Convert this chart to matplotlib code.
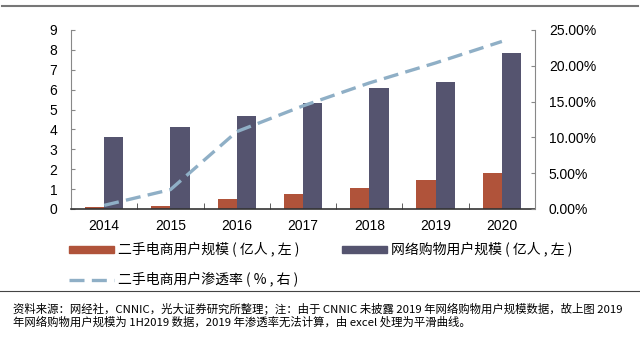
import matplotlib.pyplot as plt
import numpy as np
from matplotlib.lines import Line2D
from matplotlib.patches import Patch

plt.rcParams['font.family'] = ['Liberation Sans', 'Noto Sans CJK SC', 'DejaVu Sans']

years = ['2014', '2015', '2016', '2017', '2018', '2019', '2020']
second_hand_users = [0.08, 0.13, 0.49, 0.77, 1.07, 1.44, 1.82]
online_shop_users = [3.62, 4.14, 4.66, 5.34, 6.10, 6.37, 7.85]
penetration = [0.5, 2.7, 10.8, 14.4, 17.6, 20.4, 23.4]

label_a = '二手电商用户规模 ( 亿人 , 左 )'
label_b = '网络购物用户规模 ( 亿人 , 左 )'
label_c = '二手电商用户渗透率 ( % , 右 )'
note = ('资料来源：网经社，CNNIC，光大证券研究所整理；注：由于 CNNIC 未披露 2019 年网络购物用户规模数据，故上图 2019\n'
        '年网络购物用户规模为 1H2019 数据，2019 年渗透率无法计算，由 excel 处理为平滑曲线。')

c_orange = '#B0533A'
c_purple = '#55546F'
c_line = '#8FAFC6'

fig = plt.figure(figsize=(6.4, 3.37), dpi=100)
ax = fig.add_axes([0.111, 0.380, 0.725, 0.531])
x = np.arange(len(years))
w = 0.29
ax.bar(x - w / 2, second_hand_users, w, color=c_orange, zorder=2)
ax.bar(x + w / 2, online_shop_users, w, color=c_purple, zorder=2)
ax.set_xlim(-0.5, len(years) - 0.5)
ax.set_ylim(0, 9)
ax.set_yticks(range(0, 10))
ax.set_xticks(x)
ax.set_xticklabels(years)
ax.set_xticks(np.arange(-0.5, len(years)), minor=True)
ax.tick_params(axis='x', which='major', length=0, labelsize=10, pad=7)
ax.tick_params(axis='x', which='minor', direction='in', length=4, color='#444444')
ax.tick_params(axis='y', direction='in', length=3, labelsize=10, color='#888888', pad=10)
for s in ['top', 'right']:
    ax.spines[s].set_visible(False)
ax.spines['left'].set_color('#888888')
ax.spines['bottom'].set_color('#333333')
ax.spines['bottom'].set_linewidth(1.2)

ax2 = ax.twinx()
ax2.plot(x, penetration, color=c_line, lw=2.4, dashes=(4.5, 2.2), dash_capstyle='butt', zorder=3)
ax2.set_ylim(0, 25)
ax2.set_yticks(range(0, 26, 5))
ax2.set_yticklabels(['%.2f%%' % v for v in range(0, 26, 5)])
ax2.tick_params(axis='y', direction='in', length=3, labelsize=10, color='#888888', pad=10)
for s in ['top', 'left', 'bottom']:
    ax2.spines[s].set_visible(False)
ax2.spines['right'].set_color('#888888')

handles = [Patch(color=c_orange), Line2D([], [], color=c_line, lw=2.4, dashes=(4.5, 2.2)),
           Patch(color=c_purple)]
labels = [label_a, label_c, label_b]
fig.legend(handles, labels, loc='upper left', bbox_to_anchor=(0.108, 0.28), ncol=2,
           frameon=False, handlelength=3.2, handleheight=0.4,
           handletextpad=0.3, columnspacing=3.1, labelspacing=1.05,
           borderpad=0, borderaxespad=0,
           prop={'family': ['Noto Sans CJK SC', 'DejaVu Sans'], 'size': 10})

fig.add_artist(Line2D([0.003, 0.997], [0.982, 0.982], color='#777777', lw=1.5))
fig.add_artist(Line2D([0.0, 1.0], [0.136, 0.136], color='#444444', lw=0.8))
fig.text(0.02, 0.1, note, fontsize=8.2, va='top', linespacing=1.12,
         family=['Noto Sans CJK SC', 'DejaVu Sans'])

fig.savefig('out.png', dpi=100)
